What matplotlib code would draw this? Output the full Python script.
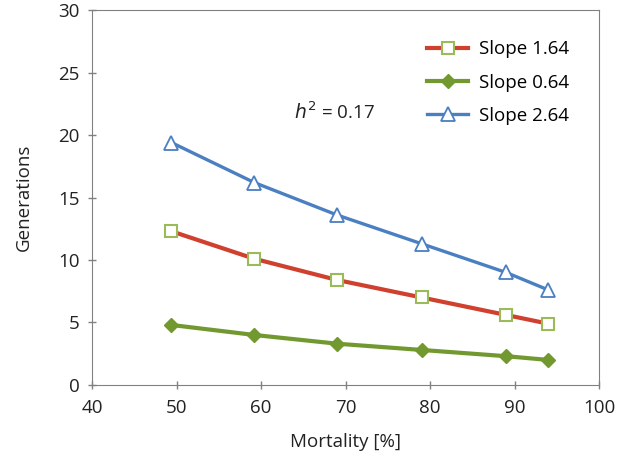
import matplotlib.pyplot as plt

plt.rcParams['font.family'] = ['Open Sans', 'DejaVu Sans']

# data
mortality = [49.4, 59.2, 69.0, 79.0, 89.0, 94.0]
slope_164 = [12.3, 10.1, 8.4, 7.0, 5.6, 4.9]
slope_064 = [4.8, 4.0, 3.3, 2.8, 2.3, 2.0]
slope_264 = [19.4, 16.2, 13.6, 11.3, 9.0, 7.6]

fig = plt.figure(figsize=(6.3, 4.61), dpi=100)
ax = fig.add_axes([0.146, 0.165, 0.805, 0.813])

ax.plot(mortality, slope_164, color='#d0402f', lw=3, marker='s', ms=9,
        mfc='white', mec='#9bbb59', mew=1.5, label='Slope 1.64')
ax.plot(mortality, slope_064, color='#72992f', lw=3, marker='D', ms=7.5,
        mfc='#72992f', mec='#72992f', label='Slope 0.64')
ax.plot(mortality, slope_264, color='#4a7fc1', lw=2.4, marker='^', ms=10,
        mfc='white', mec='#4a7fc1', mew=1.3, label='Slope 2.64')

ax.set_xlim(40, 100)
ax.set_ylim(0, 30)
ax.set_xticks(range(40, 101, 10))
ax.set_yticks(range(0, 31, 5))
ax.tick_params(direction='inout', length=6, width=1, color='#808080',
               labelsize=13.5, colors='#222222')
ax.tick_params(axis='x', pad=7)
ax.tick_params(axis='y', pad=6)
for s in ax.spines.values():
    s.set_color('#808080')

ax.set_xlabel('Mortality [%]', fontsize=13.5, color='#222222', labelpad=12)
ax.set_ylabel('Generations', fontsize=13.5, color='#222222', labelpad=18)

ax.text(68.7, 21.8, r'$h^2$ = 0.17', fontsize=13.5, ha='center', va='center',
        color='#222222')

ax.legend(loc='upper right', frameon=False, fontsize=13.5, handlelength=2.2,
          handletextpad=0.6, labelspacing=0.82, bbox_to_anchor=(0.975, 0.965))

fig.savefig('out.png', dpi=100)
